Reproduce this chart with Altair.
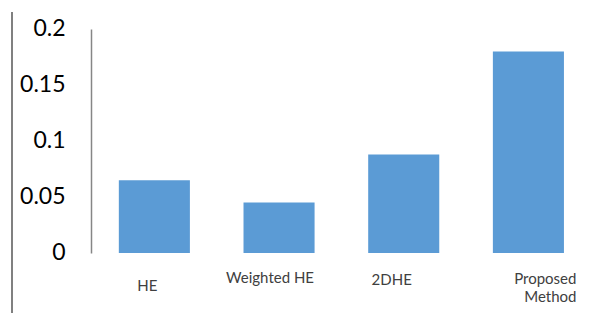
import altair as alt
import pandas as pd

categories = ["HE", "Weighted HE", "2DHE", "Proposed Method"]
values = [0.065, 0.045, 0.088, 0.18]
y_ticks = [0, 0.05, 0.1, 0.15, 0.2]
y_tick_labels = ["0", "0.05", "0.1", "0.15", "0.2"]

df = pd.DataFrame({"method": categories, "value": values})


def cond(mapping, default):
    return {
        "condition": [
            {"test": f"datum.value === '{k}'", "value": v} for k, v in mapping.items()
        ],
        "value": default,
    }


label_map = " : ".join(
    [f"datum.value == {v!r} ? '{l}'" for v, l in zip(y_ticks, y_tick_labels)]
) + " : datum.label"

bars = alt.Chart(df).mark_bar(color="#5B9BD5").encode(
    x=alt.X(
        "method:N",
        sort=categories,
        scale=alt.Scale(paddingInner=0.43, paddingOuter=0.18, align=0.62),
        axis=alt.Axis(
            title=None,
            domain=False,
            ticks=False,
            labelAngle=0,
            labelFont="Lato",
            labelFontSize=15,
            labelColor="#404040",
            labelBaseline="top",
            labelLineHeight=18,
            labelOverlap=False,
            labelBound=False,
            labelExpr="datum.value == 'Proposed Method' ? ['Proposed', 'Method'] : datum.value",
            labelAlign=cond({"Proposed Method": "right"}, "center"),
            labelOffset=cond({"HE": -7, "Weighted HE": -9, "2DHE": -12, "Proposed Method": 48}, 0),
            labelPadding=cond({"HE": 25, "Weighted HE": 17, "2DHE": 19, "Proposed Method": 18}, 20),
        ),
    ),
    y=alt.Y(
        "value:Q",
        scale=alt.Scale(domain=[0, 0.2], nice=False),
        axis=alt.Axis(
            title=None,
            values=y_ticks,
            labelExpr=label_map,
            grid=False,
            ticks=False,
            domainColor="#868686",
            domainWidth=1.5,
            labelFont="Lato",
            labelFontSize=23,
            labelColor="#000000",
            labelPadding=26,
            labelOffset=-1,
        ),
    ),
)

border = alt.Chart(df).mark_rule(color="#7f7f7f", strokeWidth=1.3).encode(
    x=alt.value(-79), y=alt.value(-17), y2=alt.value(284)
)

chart = alt.layer(bars, border).properties(
    width=490,
    height=224,
    autosize=alt.AutoSizeParams(type="none"),
    padding={"left": 83, "top": 21, "right": 0, "bottom": 60},
).configure_view(stroke=None)

chart.save("out.html", embed_options={"renderer": "svg", "actions": False})
